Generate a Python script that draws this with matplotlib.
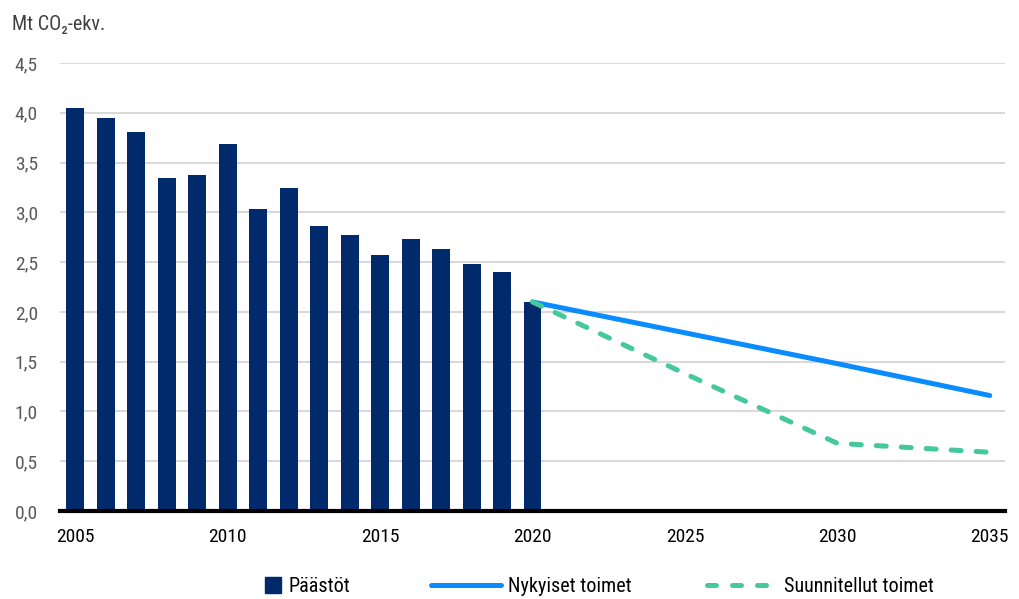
import matplotlib.pyplot as plt
import numpy as np
from matplotlib import font_manager
from matplotlib.lines import Line2D

# pick a narrow font if one is installed
installed = {f.name for f in font_manager.fontManager.ttflist}
main_font = 'Liberation Sans'
for cand in ['Liberation Sans Narrow', 'Roboto Condensed', 'Open Sans Condensed',
             'Noto Sans Condensed', 'DejaVu Sans Condensed']:
    if cand in installed:
        main_font = cand
        break
plt.rcParams['font.family'] = [main_font, 'DejaVu Sans']

# Data
years = list(range(2005, 2036))
bar_years = list(range(2005, 2021))
emissions = [4.05, 3.95, 3.81, 3.34, 3.38, 3.69, 3.03, 3.24,
             2.86, 2.77, 2.57, 2.73, 2.63, 2.48, 2.40, 2.10]
line_years = [2020, 2025, 2030, 2035]
current = [2.10, 1.79, 1.48, 1.16]
planned = [2.10, 1.38, 0.68, 0.59]
ytick_labels = ['0,0', '0,5', '1,0', '1,5', '2,0', '2,5', '3,0', '3,5', '4,0', '4,5']

navy = '#002A6C'
blue = '#0A8CFF'
green = '#45C89A'

fig = plt.figure(figsize=(10.19, 5.99), dpi=100)
ax = fig.add_axes([60 / 1019, 1 - 511 / 599, 945 / 1019, 448 / 599])

x0 = years[0]
ax.bar([y - x0 for y in bar_years], emissions, width=0.59, color=navy, zorder=2)
ax.plot([y - x0 for y in line_years], current, color=blue, lw=3.6,
        solid_capstyle='round', zorder=3)
ax.plot([y - x0 for y in line_years], planned, color=green, lw=3.6,
        dashes=(2.0, 3.0), dash_capstyle='round', zorder=3)

ax.set_xlim(-0.5, len(years) - 0.5)
ax.set_ylim(0, 4.5)
ax.set_yticks(np.arange(0, 4.51, 0.5))
ax.set_yticklabels(ytick_labels, color='#595959', fontsize=14)
xt = [y - x0 for y in years if y % 5 == 0]
ax.set_xticks(xt)
ax.set_xticklabels([str(y) for y in years if y % 5 == 0], fontsize=14)
ax.tick_params(length=0)
ax.tick_params(axis='x', pad=12)
ax.tick_params(axis='y', pad=16)
ax.grid(axis='y', color='#D9D9D9', lw=1.5, zorder=0)
for s in ['top', 'right', 'left']:
    ax.spines[s].set_visible(False)
ax.spines['bottom'].set_linewidth(3)
ax.spines['bottom'].set_zorder(4)

fig.text(12 / 1019, 1 - 25 / 599, 'Mt CO₂-ekv.', fontsize=14.5, color='#404040',
         va='center', ha='left')

# legend entries placed one by one
entries = [
    (Line2D([], [], color=navy, marker='s', markersize=11.5, linestyle='none'),
     'Päästöt', 265, 0.8, 0.36),
    (Line2D([], [], color=blue, lw=3.6, solid_capstyle='round'),
     'Nykyiset toimet', 431, 3.5, 0.3),
    (Line2D([], [], color=green, lw=3.6, dashes=(1.8, 3.2), dash_capstyle='round'),
     'Suunnitellut toimet', 707, 3.2, 0.6),
]
for h, lab, xpix, hl, tp in entries:
    fig.legend([h], [lab], loc='center left', bbox_to_anchor=(xpix / 1019, 1 - 587 / 599),
               frameon=False, fontsize=14.5, handlelength=hl, handletextpad=tp,
               borderpad=0, borderaxespad=0)

fig.savefig('out.png', dpi=100)
